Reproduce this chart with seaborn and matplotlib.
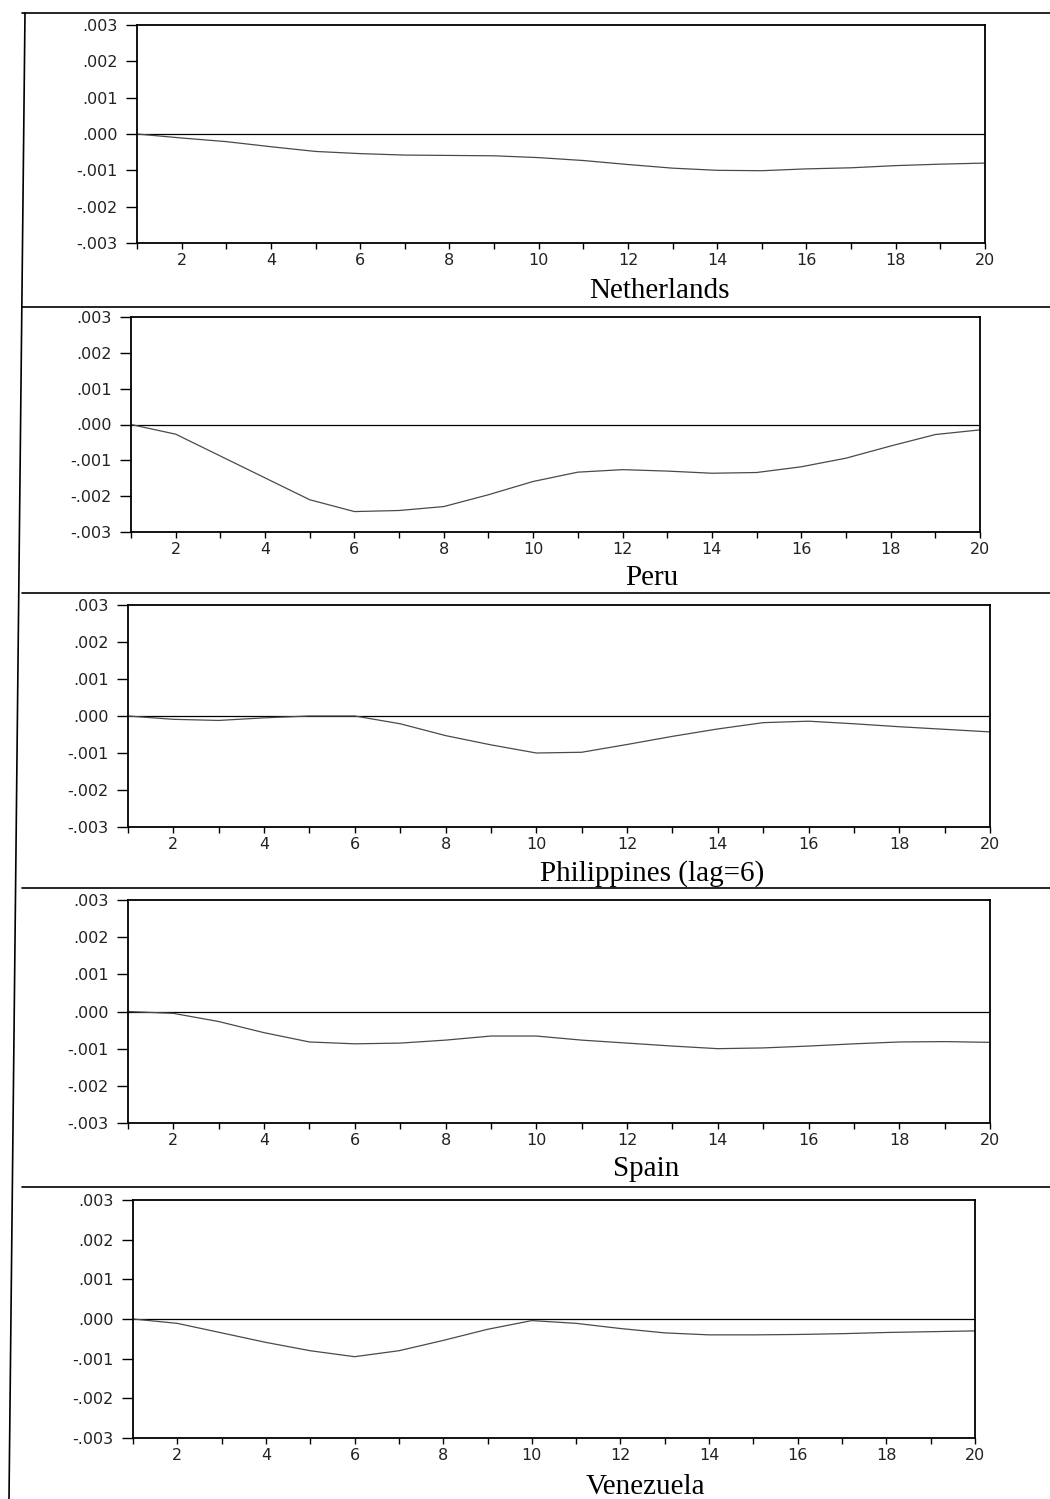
import matplotlib
matplotlib.use("Agg")
import matplotlib.pyplot as plt
from matplotlib.lines import Line2D
import numpy as np
import pandas as pd
import seaborn as sns

# Response horizon (periods)
horizon = list(range(1, 21))

# Impulse responses by country
netherlands = [0.0, -0.00011, -0.00021, -0.00035, -0.00048, -0.00054, -0.00058, -0.00059,
               -0.00060, -0.00065, -0.00073, -0.00084, -0.00094, -0.00100, -0.00101,
               -0.00096, -0.00093, -0.00087, -0.00083, -0.00080]
peru = [0.0, -0.00027, -0.00088, -0.00149, -0.00210, -0.00243, -0.00240, -0.00229,
        -0.00196, -0.00159, -0.00133, -0.00126, -0.00130, -0.00136, -0.00134,
        -0.00118, -0.00094, -0.00060, -0.00028, -0.00015]
philippines = [0.0, -0.00009, -0.00012, -0.00005, 0.0, 0.0, -0.00021, -0.00053,
               -0.00078, -0.00100, -0.00098, -0.00077, -0.00055, -0.00035, -0.00018,
               -0.00014, -0.00021, -0.00029, -0.00036, -0.00043]
spain = [0.0, -0.00005, -0.00027, -0.00057, -0.00082, -0.00087, -0.00085, -0.00077,
         -0.00066, -0.00066, -0.00077, -0.00085, -0.00093, -0.00100, -0.00098,
         -0.00093, -0.00087, -0.00082, -0.00081, -0.00083]
venezuela = [0.0, -0.00011, -0.00035, -0.00059, -0.00080, -0.00095, -0.00080, -0.00054,
             -0.00026, -0.00004, -0.00011, -0.00024, -0.00035, -0.00040, -0.00040,
             -0.00039, -0.00037, -0.00034, -0.00032, -0.00030]

panel_titles = ["Netherlands", "Peru", "Philippines (lag=6)", "Spain", "Venezuela"]
series = [netherlands, peru, philippines, spain, venezuela]

y_ticks = [0.003, 0.002, 0.001, 0.0, -0.001, -0.002, -0.003]
y_tick_labels = [".003", ".002", ".001", ".000", "-.001", "-.002", "-.003"]
x_tick_labels = [str(h) if h % 2 == 0 else "" for h in horizon]

sns.set_style("ticks")
plt.rcParams["font.family"] = ["DejaVu Sans"]

W, H = 1050, 1499
fig = plt.figure(figsize=(W / 100, H / 100), dpi=100)

# panel frames in pixels: left, right, top, bottom
frames = [(137, 985, 25, 243), (131, 980, 317, 532), (128, 990, 605, 827),
          (128, 990, 900, 1123), (133, 975, 1200, 1438)]
title_xy = [(659, 291), (652, 578), (652, 874), (646, 1169), (645, 1487)]

for name, vals, (l, r, t, b), (tx, ty) in zip(panel_titles, series, frames, title_xy):
    ax = fig.add_axes([l / W, 1 - b / H, (r - l) / W, (b - t) / H])
    df = pd.DataFrame({"horizon": horizon, "response": vals})
    ax.axhline(0, color="black", lw=0.9, zorder=1)
    sns.lineplot(data=df, x="horizon", y="response", ax=ax, color="#4a4a4a",
                 lw=0.9, zorder=2)
    ax.set_xlim(1, 20)
    ax.set_ylim(-0.003, 0.003)
    ax.set_xticks(horizon)
    ax.set_xticklabels(x_tick_labels)
    ax.set_yticks(y_ticks)
    ax.set_yticklabels(y_tick_labels)
    ax.set_xlabel("")
    ax.set_ylabel("")
    ax.tick_params(axis="y", direction="out", length=8, width=1, pad=6,
                   labelsize=11.5, colors="black", labelcolor="#222222")
    ax.tick_params(axis="x", direction="out", length=4, width=1, pad=3,
                   labelsize=11.5, colors="black", labelcolor="#222222")
    for sp in ax.spines.values():
        sp.set_visible(True)
        sp.set_linewidth(1.3)
        sp.set_color("black")
    fig.text(tx / W, 1 - ty / H, name, ha="center", va="center",
             family=["Liberation Serif"], fontsize=21, color="black")

# page rules between panels and along the left margin
def px_line(x0, y0, x1, y1, lw=1.2):
    fig.add_artist(Line2D([x0 / W, x1 / W], [1 - y0 / H, 1 - y1 / H],
                          transform=fig.transFigure, color="black", lw=lw))

for y in [13, 307, 593, 888, 1187]:
    px_line(22, y, W, y)
px_line(25, 13, 9, H)

fig.savefig("out.png", dpi=100, facecolor="white")
